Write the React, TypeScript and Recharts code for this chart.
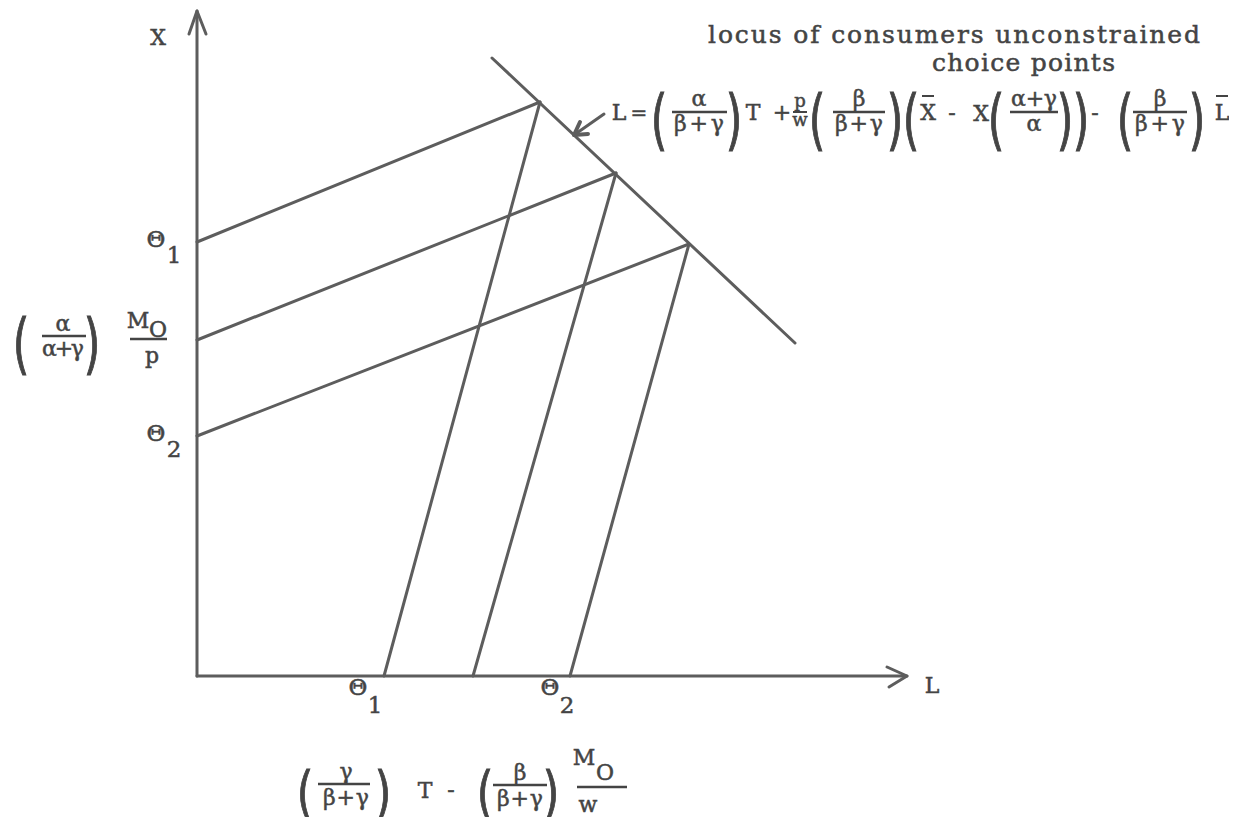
import React from 'react';
import { LineChart, Line, XAxis, YAxis, Customized } from 'recharts';

const FONT = '"DejaVu Serif", "Liberation Serif", serif';
const INK = '#444444';
const LINE_INK = '#5d5d5d';

// Locus of unconstrained choice points, as (L, X) end points
const locusL = [295, 598];
const locusX = [618, 333];

// Choice points on the locus reached by each pair of constraints
const cornerL = [343, 419, 492];
const cornerX = [574, 503, 432];

// Where the goods constraints meet the X axis, and the time constraints meet the L axis
const xIntercepts = [434, 336, 240];
const lIntercepts = [187, 276, 373];

// Axis lines and arrow heads
const xAxisLineL = [0, 0];
const xAxisLineX = [0, 665];
const lAxisLineL = [0, 710];
const lAxisLineX = [0, 0];
const xArrowL = [-8, 0, 9];
const xArrowX = [642, 665, 642];
const lArrowL = [690, 710, 692];
const lArrowX = [9, 0, -11];

// Pointer from the formula to the locus
const pointerL = [407, 377];
const pointerX = [562, 541];
const pointerHeadL = [391, 377, 383];
const pointerHeadX = [542, 541, 554];

// Tick values and their labels
const yTickValues = [434, 336, 240];
const yTickLabels = ['Θ_1', 'M_0/p', 'Θ_2'];
const lTickValues = [170, 265, 362];
const lTickLabels = ['Θ_1', 'T-M_0/w', 'Θ_2'];

const pts = (ls: number[], xs: number[]) => ls.map((x, i) => ({ x, y: xs[i] }));

const goodsConstraints = cornerL.map((l, i) => [
  { x: 0, y: xIntercepts[i] },
  { x: l, y: cornerX[i] },
]);
const timeConstraints = cornerL.map((l, i) => [
  { x: l, y: cornerX[i] },
  { x: lIntercepts[i], y: 0 },
]);

const Txt = ({ x, y, size = 22, anchor = 'middle', len, children }: any) => (
  <text
    x={x}
    y={y}
    fontFamily={FONT}
    fontSize={size}
    fill={INK}
    stroke={INK}
    strokeWidth={0.5}
    textAnchor={anchor}
    textLength={len}
    lengthAdjust={len ? 'spacing' : undefined}
  >
    {children}
  </text>
);

// Tall bracket, stretched vertically around a fraction
const Paren = ({ cx, cy, h, close = false }: any) => {
  const fs = 34;
  const sy = h / (fs * 1.15);
  return (
    <text
      transform={`translate(${cx},${cy}) scale(1.25,${sy})`}
      x={0}
      y={11}
      fontFamily='"DejaVu Sans", sans-serif'
      fontSize={fs}
      fill={INK}
      stroke={INK}
      strokeWidth={0.6}
      textAnchor="middle"
    >
      {close ? ')' : '('}
    </text>
  );
};

const Bar = ({ x1, x2, y, w = 2.5 }: any) => (
  <line x1={x1} x2={x2} y1={y} y2={y} stroke={INK} strokeWidth={w} />
);

const Frac = ({ cx, x1, x2, barY, num, den, numLen, denLen, numDy = -6, denDy = 19 }: any) => (
  <g>
    <Txt x={cx} y={barY + numDy} len={numLen}>{num}</Txt>
    <Bar x1={x1} x2={x2} y={barY} />
    <Txt x={cx} y={barY + denDy} len={denLen}>{den}</Txt>
  </g>
);

const YTick = (props: any) => {
  const { x, y, payload } = props;
  const label = yTickLabels[yTickValues.indexOf(payload.value)];
  if (label === 'M_0/p') {
    return (
      <g>
        <Paren cx={x - 146} cy={y + 5} h={75} />
        <Frac cx={x - 104} x1={x - 125} x2={x - 81} barY={y - 4} num="α" den="α+γ" denLen={42} numDy={-5} denDy={20} />
        <Paren cx={x - 75} cy={y + 5} h={75} close />
        <Txt x={x - 29} y={y - 12}>M</Txt>
        <Txt x={x - 9} y={y - 3}>O</Txt>
        <Bar x1={x - 37} x2={x} y={y - 1} />
        <Txt x={x - 15} y={y + 23}>p</Txt>
      </g>
    );
  }
  const [sym, sub] = label.split('_');
  return (
    <g>
      <Txt x={x - 11} y={y + 5} size={23}>{sym}</Txt>
      <Txt x={x + 7} y={y + 21} size={23}>{sub}</Txt>
    </g>
  );
};

const LTick = (props: any) => {
  const { x, y, payload } = props;
  const label = lTickLabels[lTickValues.indexOf(payload.value)];
  if (label === 'T-M_0/w') {
    return (
      <g>
        <Paren cx={x - 157} cy={y + 97} h={66} />
        <Frac cx={x - 116} x1={x - 144} x2={x - 92} barY={y + 88} num="γ" den="β+γ" denLen={46} numDy={-5} denDy={21} />
        <Paren cx={x - 79} cy={y + 97} h={66} close />
        <Txt x={x - 37} y={y + 102}>T</Txt>
        <Txt x={x - 11} y={y + 101}>-</Txt>
        <Paren cx={x + 23} cy={y + 97} h={66} />
        <Frac cx={x + 58} x1={x + 31} x2={x + 85} barY={y + 89} num="β" den="β+γ" denLen={46} numDy={-5} denDy={21} />
        <Paren cx={x + 89} cy={y + 97} h={66} close />
        <Txt x={x + 122} y={y + 69}>M</Txt>
        <Txt x={x + 143} y={y + 84}>O</Txt>
        <Bar x1={x + 115} x2={x + 165} y={y + 91} />
        <Txt x={x + 126} y={y + 116}>w</Txt>
      </g>
    );
  }
  const [sym, sub] = label.split('_');
  return (
    <g>
      <Txt x={x - 9} y={y - 1} size={23}>{sym}</Txt>
      <Txt x={x + 8} y={y + 17} size={23}>{sub}</Txt>
    </g>
  );
};

// Axis titles, the locus caption and the locus formula
const Annotations = () => (
  <g>
    <Txt x={158} y={45}>X</Txt>
    <Txt x={932} y={693}>L</Txt>

    <Txt x={708} y={43} size={25} anchor="start" len={492}>locus of consumers unconstrained</Txt>
    <Txt x={932} y={71} size={25} anchor="start" len={183}>choice points</Txt>

    <Txt x={619} y={120}>L</Txt>
    <Txt x={639} y={120} size={20}>=</Txt>
    <Paren cx={659} cy={121} h={76} />
    <Frac cx={699} x1={672} x2={727} barY={112} num="α" den="β+γ" denLen={50} />
    <Paren cx={734} cy={121} h={76} close />
    <Txt x={753} y={120}>T</Txt>
    <Txt x={782} y={120}>+</Txt>
    <Txt x={800} y={107} size={18}>p</Txt>
    <Bar x1={793} x2={807} y={112} w={2} />
    <Txt x={800} y={126} size={18}>w</Txt>
    <Paren cx={817} cy={121} h={76} />
    <Frac cx={859} x1={833} x2={885} barY={112} num="β" den="β+γ" denLen={48} />
    <Paren cx={895} cy={121} h={76} close />
    <Paren cx={911} cy={121} h={76} />
    <Txt x={928} y={120}>X</Txt>
    <Bar x1={922} x2={934} y={96} w={2} />
    <Txt x={952} y={120}>-</Txt>
    <Txt x={981} y={121}>X</Txt>
    <Paren cx={996} cy={121} h={76} />
    <Frac cx={1034} x1={1010} x2={1058} barY={112} num="α+γ" den="α" numLen={46} />
    <Paren cx={1065} cy={121} h={76} close />
    <Paren cx={1081} cy={121} h={76} close />
    <Txt x={1095} y={120}>-</Txt>
    <Paren cx={1125} cy={121} h={76} />
    <Frac cx={1160} x1={1133} x2={1187} barY={112} num="β" den="β+γ" denLen={50} />
    <Paren cx={1197} cy={121} h={76} close />
    <Txt x={1222} y={120}>L</Txt>
    <Bar x1={1216} x2={1228} y={96} w={2} />
  </g>
);

const lineProps = {
  dataKey: 'y',
  stroke: LINE_INK,
  strokeWidth: 3,
  dot: false,
  activeDot: false,
  isAnimationActive: false,
  type: 'linear' as const,
  strokeLinejoin: 'round' as const,
  strokeLinecap: 'round' as const,
};

export default function App() {
  return (
    <div style={{ margin: -8, background: '#ffffff' }}>
      <LineChart width={1237} height={825} margin={{ top: 10, right: 310, bottom: 0, left: 0 }}>
        <XAxis
          type="number"
          dataKey="x"
          domain={[-30, 730]}
          ticks={lTickValues}
          interval={0}
          height={129}
          axisLine={false}
          tickLine={false}
          tickSize={0}
          tickMargin={0}
          tick={<LTick />}
        />
        <YAxis
          type="number"
          dataKey="y"
          domain={[-20, 666]}
          ticks={yTickValues}
          interval={0}
          width={167}
          axisLine={false}
          tickLine={false}
          tickSize={0}
          tickMargin={0}
          tick={<YTick />}
        />

        <Line {...lineProps} data={pts(xAxisLineL, xAxisLineX)} />
        <Line {...lineProps} data={pts(lAxisLineL, lAxisLineX)} />
        <Line {...lineProps} data={pts(xArrowL, xArrowX)} />
        <Line {...lineProps} data={pts(lArrowL, lArrowX)} />

        <Line {...lineProps} data={pts(locusL, locusX)} />
        {goodsConstraints.map((d, i) => (
          <Line key={`g${i}`} {...lineProps} data={d} />
        ))}
        {timeConstraints.map((d, i) => (
          <Line key={`t${i}`} {...lineProps} data={d} />
        ))}

        <Line {...lineProps} data={pts(pointerL, pointerX)} />
        <Line {...lineProps} strokeWidth={4} data={pts(pointerHeadL, pointerHeadX)} />

        <Customized component={Annotations} />
      </LineChart>
    </div>
  );
}
